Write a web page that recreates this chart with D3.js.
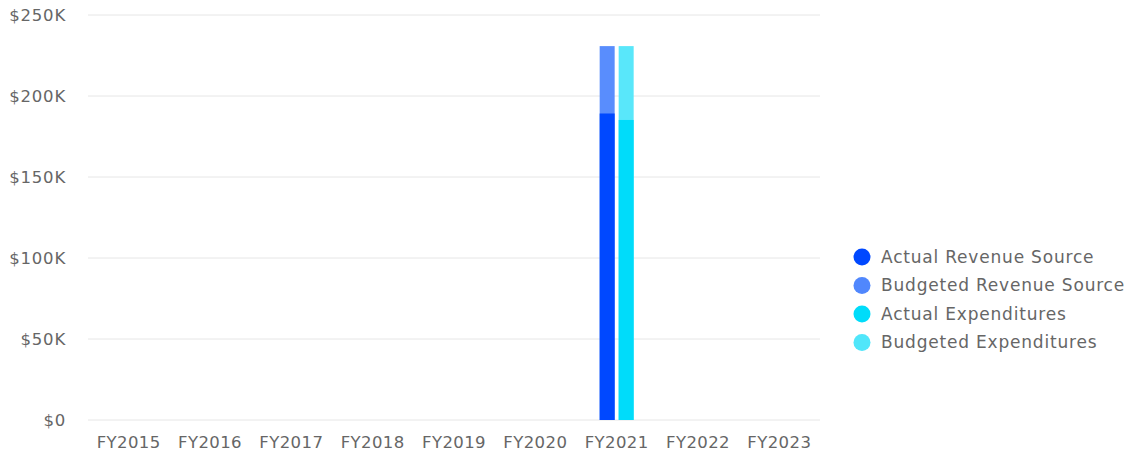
<!DOCTYPE html>
<html><head><meta charset="utf-8">
<script src="https://cdn.jsdelivr.net/npm/d3@7"></script>
<style>
html,body{margin:0;padding:0;background:#fff;}
svg{display:block;}
text{font-family:"DejaVu Sans",sans-serif;}
</style></head>
<body>
<svg id="chart" width="1131" height="458"></svg>
<script>
const categories = ["FY2015","FY2016","FY2017","FY2018","FY2019","FY2020","FY2021","FY2022","FY2023"];
const actualRevenue = [0,0,0,0,0,0,189200,0,0];
const budgetedRevenue = [0,0,0,0,0,0,230800,0,0];
const actualExpenditures = [0,0,0,0,0,0,185200,0,0];
const budgetedExpenditures = [0,0,0,0,0,0,230800,0,0];
const yTicks = [0,50000,100000,150000,200000,250000];
const seriesNames = ["Actual Revenue Source","Budgeted Revenue Source","Actual Expenditures","Budgeted Expenditures"];
const seriesColors = ["#0048ff","#5087fd","#00dcfa","#50e6fa"];

const svg = d3.select("#chart");
const m = {left:88, right:311, top:15, bottom:38};
const W = 1131, H = 458;
const x = d3.scaleBand().domain(categories).range([m.left, W - m.right]);
const y = d3.scaleLinear().domain([0,250000]).range([H - m.bottom, m.top]);

// grid
svg.append("g").selectAll("line").data(yTicks).join("line")
  .attr("x1", m.left).attr("x2", W - m.right)
  .attr("y1", d => y(d)).attr("y2", d => y(d))
  .attr("stroke", "#e6e6e6").attr("stroke-width", 1);

// y axis
const yAxis = d3.axisLeft(y).tickValues(yTicks).tickSize(0).tickPadding(0)
  .tickFormat(d => d === 0 ? "$0" : "$" + (d/1000) + "K");
const gy = svg.append("g").attr("transform", `translate(66,0)`).call(yAxis);
gy.select(".domain").remove();
gy.selectAll("text").attr("fill","#666").style("font-size","16.5px")
  .style("letter-spacing","0.8px").attr("dy","0.35em");

// x axis
const xAxis = d3.axisBottom(x).tickSize(0).tickPadding(0);
const gx = svg.append("g").attr("transform", `translate(0,${H - m.bottom + 16})`).call(xAxis);
gx.select(".domain").remove();
gx.selectAll("text").attr("fill","#666").style("font-size","16.5px")
  .style("letter-spacing","0.4px").attr("dy","0.71em");

// bars
const bw = 15, gap = 4;
const groups = [
  {budget: budgetedRevenue, actual: actualRevenue, cb: seriesColors[1], ca: seriesColors[0], off: -(bw + gap/2)},
  {budget: budgetedExpenditures, actual: actualExpenditures, cb: seriesColors[3], ca: seriesColors[2], off: gap/2}
];
groups.forEach(g => {
  const c = x.bandwidth()/2;
  svg.append("g").selectAll("rect").data(categories.map((k,i)=>({k, v:g.budget[i]})).filter(d=>d.v>0)).join("rect")
    .attr("x", d => x(d.k) + c + g.off).attr("width", bw)
    .attr("y", d => y(d.v)).attr("height", d => y(0) - y(d.v))
    .attr("fill", g.cb).attr("fill-opacity", 0.95);
  svg.append("g").selectAll("rect").data(categories.map((k,i)=>({k, v:g.actual[i]})).filter(d=>d.v>0)).join("rect")
    .attr("x", d => x(d.k) + c + g.off).attr("width", bw)
    .attr("y", d => y(d.v)).attr("height", d => y(0) - y(d.v))
    .attr("fill", g.ca);
});

// legend
const lg = svg.append("g").attr("transform","translate(862,257)");
seriesNames.forEach((n,i) => {
  const row = lg.append("g").attr("transform", `translate(0,${i*28.5})`);
  row.append("circle").attr("r", 8.5).attr("fill", seriesColors[i]);
  row.append("text").attr("x", 19).attr("dy","0.35em").attr("fill","#666")
    .style("font-size","17px").style("font-weight","500")
    .style("letter-spacing","0.8px").text(n);
});
</script>
</body></html>
